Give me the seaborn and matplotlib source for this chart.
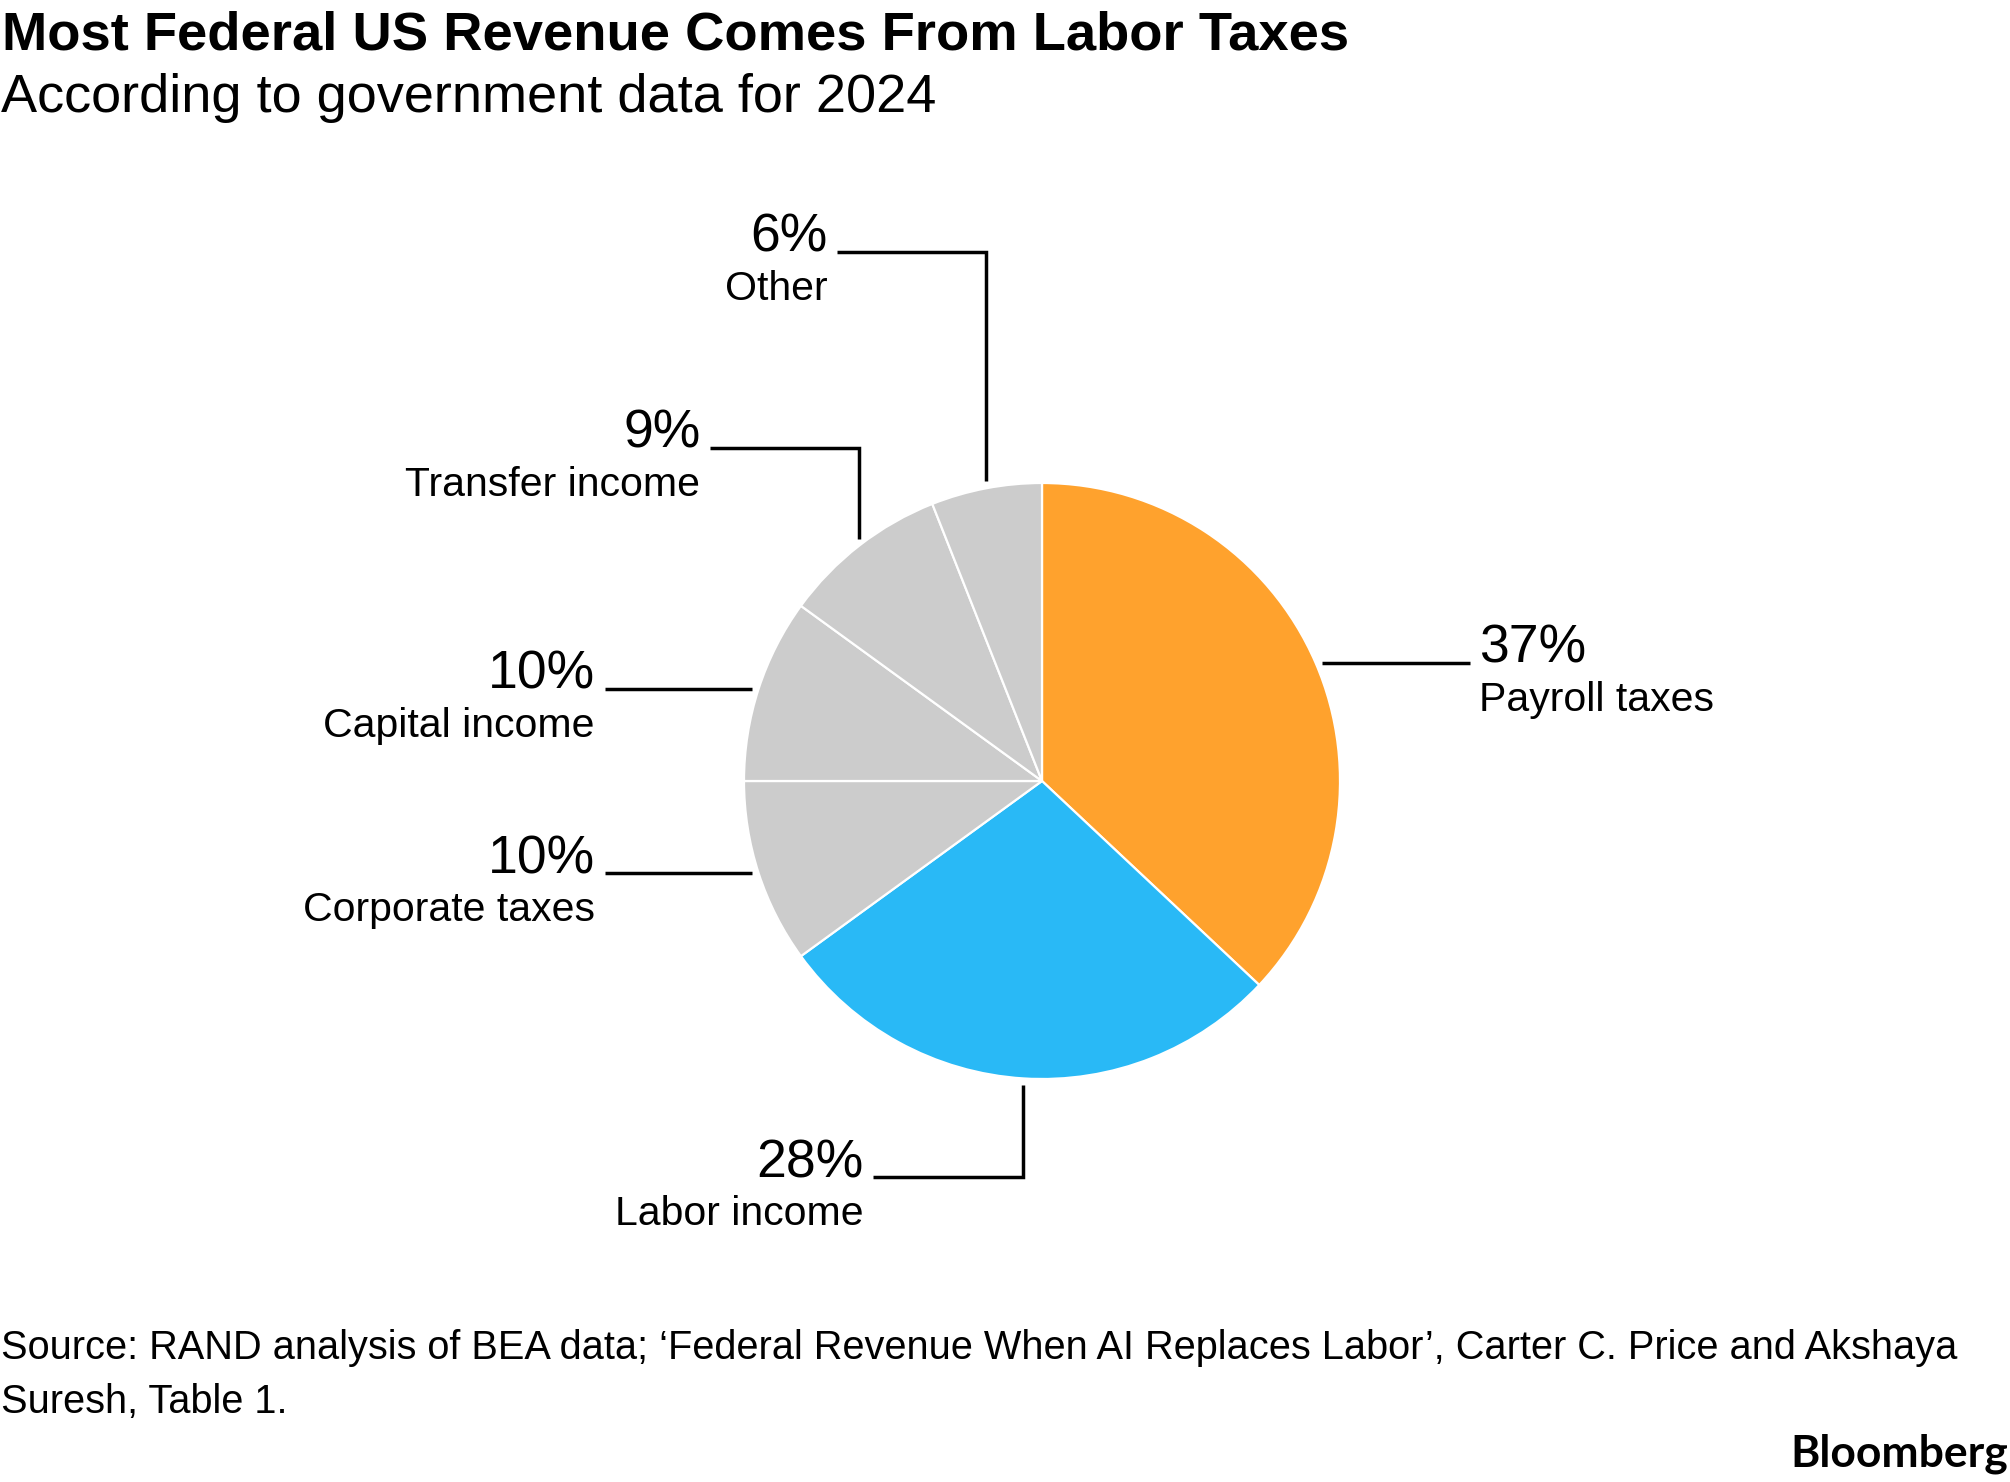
import numpy as np
import matplotlib
matplotlib.use("Agg")
import matplotlib.pyplot as plt
import seaborn as sns

# ---------------- data ----------------
title = "Most Federal US Revenue Comes From Labor Taxes"
subtitle = "According to government data for 2024"
source_lines = [
    "Source: RAND analysis of BEA data; \u2018Federal Revenue When AI Replaces Labor\u2019, Carter C. Price and Akshaya",
    "Suresh, Table 1.",
]
brand = "Bloomberg"
categories = ["Payroll taxes", "Labor income", "Corporate taxes",
              "Capital income", "Transfer income", "Other"]
shares = [37, 28, 10, 10, 9, 6]
highlighted = ["Payroll taxes", "Labor income"]

# ---------------- style ----------------
sns.set_theme(style="white")
plt.rcParams["font.family"] = ["Liberation Sans", "DejaVu Sans"]

W, H = 2010, 1482
fig = plt.figure(figsize=(W / 100, H / 100), dpi=100)
ax = fig.add_axes([0, 0, 1, 1])

highlight_colors = {"Payroll taxes": "#FFA22D", "Labor income": "#29B9F6"}
grey = "#CCCCCC"
pie_colors = [highlight_colors.get(c, grey) for c in categories]

cx, cy, R = 1042, H - 781, 298
wedges, _ = ax.pie(shares, colors=pie_colors, startangle=90, counterclock=False,
                   center=(cx, cy), radius=R, frame=True,
                   wedgeprops=dict(edgecolor="white", linewidth=1.6))
ax.set_xlim(0, W)
ax.set_ylim(0, H)
ax.set_aspect("equal")
ax.axis("off")

# leader-line layout (style, not data)
leaders = {
    "Payroll taxes": dict(kind="right", length=148),
    "Labor income": dict(kind="down", elbow=H - 1177, length=150),
    "Corporate taxes": dict(kind="left", length=147),
    "Capital income": dict(kind="left", length=147),
    "Transfer income": dict(kind="up", elbow=H - 448, length=149),
    "Other": dict(kind="up", elbow=H - 252, length=149),
}
gap = 7
lw = 2.5
pct_size = 38.5
cat_size = 29.5
line_drop = 48

for w, cat, val in zip(wedges, categories, shares):
    mid = np.deg2rad((w.theta1 + w.theta2) / 2)
    px = cx + R * np.cos(mid)
    py = cy + R * np.sin(mid)
    spec = leaders[cat]
    kind = spec["kind"]
    if kind == "right":
        x0, x1, y1 = px + gap, px + gap + spec["length"], py
        xs, ys = [x0, x1], [y1, y1]
        tx, ha = x1 + 9, "left"
    elif kind == "left":
        x0, x1, y1 = px - gap, px - gap - spec["length"], py
        xs, ys = [x0, x1], [y1, y1]
        tx, ha = x1 - 10, "right"
    elif kind == "down":
        y0, y1 = py - gap, spec["elbow"]
        x1 = px - spec["length"]
        xs, ys = [px, px, x1], [y0, y1, y1]
        tx, ha = x1 - 10, "right"
    else:  # up
        y0, y1 = py + gap, spec["elbow"]
        x1 = px - spec["length"]
        xs, ys = [px, px, x1], [y0, y1, y1]
        tx, ha = x1 - 10, "right"
    ax.plot(xs, ys, color="black", lw=lw, solid_joinstyle="miter",
            solid_capstyle="butt")
    ax.text(tx, y1, f"{val}%", ha=ha, va="baseline", fontsize=pct_size,
            color="black")
    ax.text(tx, y1 - line_drop, cat, ha=ha, va="baseline", fontsize=cat_size,
            color="black")

# titles
ax.text(2, H - 50, title, ha="left", va="baseline", fontsize=39.2,
        fontweight="bold", color="black")
ax.text(1, H - 112, subtitle, ha="left", va="baseline", fontsize=39,
        color="black")
ax.text(1, H - 1359, source_lines[0], ha="left", va="baseline", fontsize=28.6,
        color="black")
ax.text(1, H - 1413, source_lines[1], ha="left", va="baseline", fontsize=28.6,
        color="black")
ax.text(2008, H - 1467, brand, ha="right", va="baseline", fontsize=32,
        fontweight="bold", color="black", family=["Lato", "DejaVu Sans"])

fig.savefig("out.png", dpi=100, facecolor="white")
